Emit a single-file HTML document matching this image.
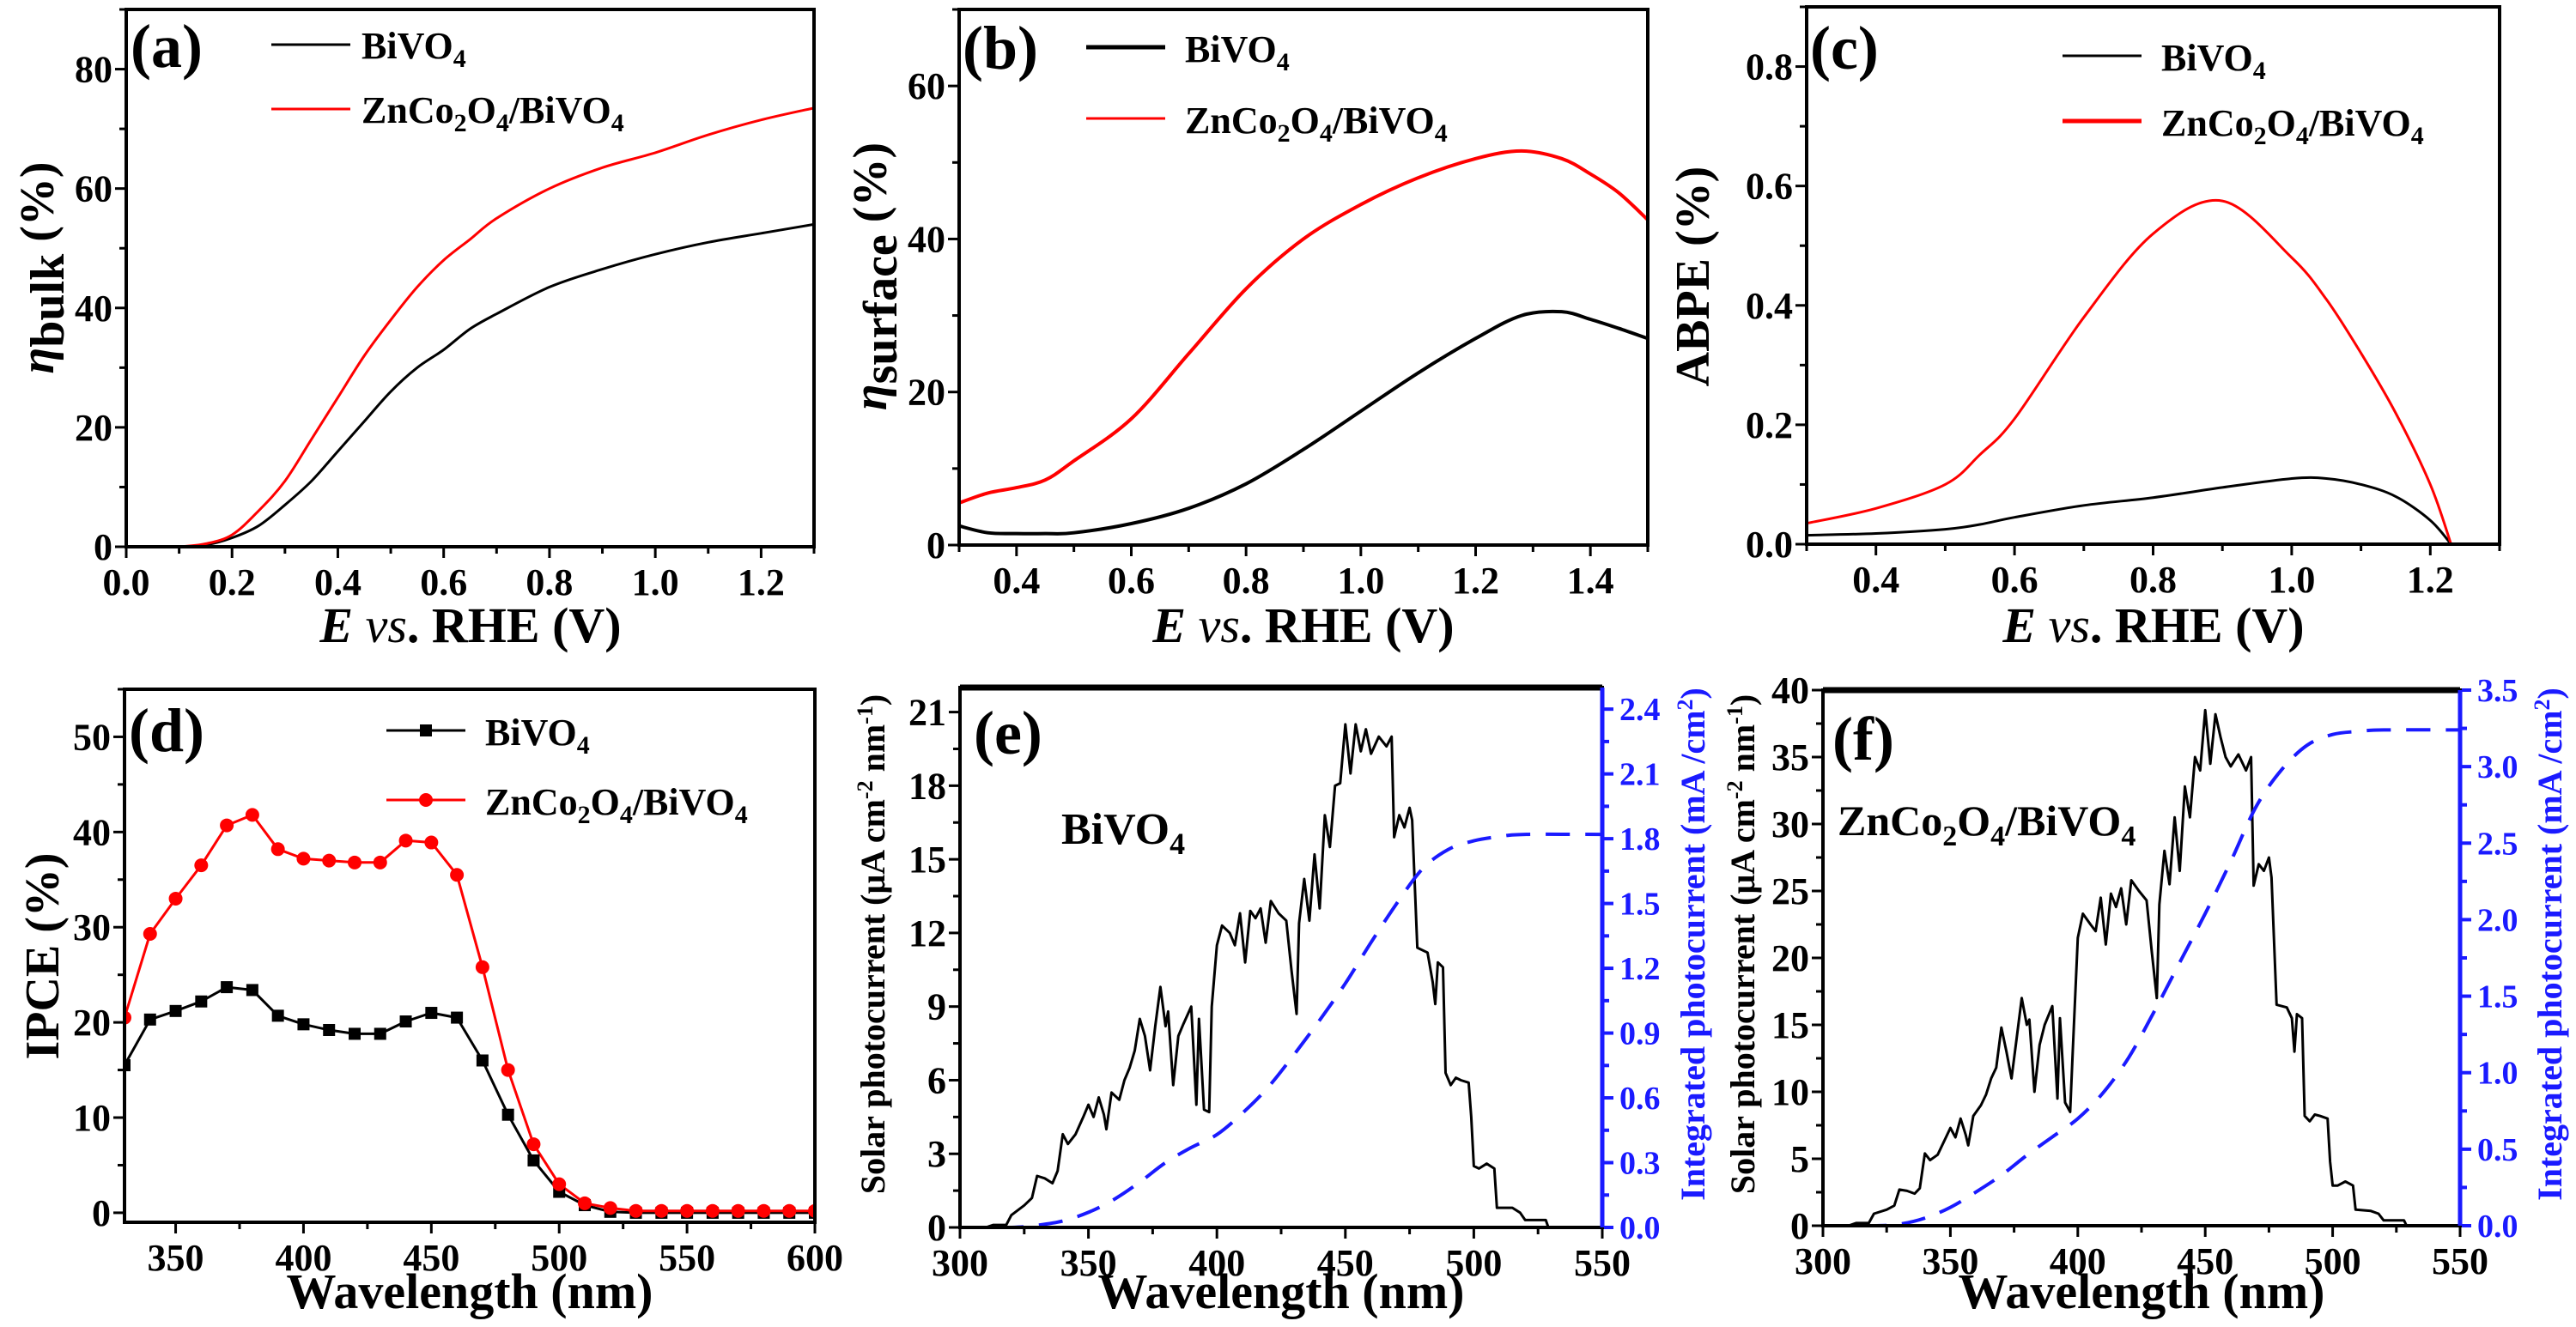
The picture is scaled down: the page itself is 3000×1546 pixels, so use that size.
<!DOCTYPE html>
<html><head><meta charset="utf-8"><style>
html,body{margin:0;padding:0;background:#fff;}
svg, svg text{font-family:"Liberation Serif","DejaVu Serif","Times New Roman",serif;font-weight:bold;}
</style></head><body>
<svg id="fig" width="3000" height="1541" viewBox="0 0 3000 1541" xmlns="http://www.w3.org/2000/svg" font-family="Liberation Serif, DejaVu Serif, serif" font-weight="bold">
<rect width="3000" height="1541" fill="#fff"/>
<text x="152" y="78" font-size="72">(a)</text>
<text x="1121" y="80" font-size="72">(b)</text>
<text x="2108" y="80" font-size="72">(c)</text>
<text x="150" y="875" font-size="72">(d)</text>
<text x="1134" y="878" font-size="72">(e)</text>
<text x="2134" y="885" font-size="72">(f)</text>
<g>
<line x1="316" y1="52" x2="408" y2="52" stroke="#000" stroke-width="3"/>
<text x="421" y="68" font-size="44">BiVO<tspan font-size="30" dy="10">4</tspan></text>
<line x1="316" y1="127" x2="408" y2="127" stroke="#f00" stroke-width="3"/>
<text x="421" y="143" font-size="44">ZnCo<tspan font-size="30" dy="10">2</tspan><tspan dy="-10">O</tspan><tspan font-size="30" dy="10">4</tspan><tspan dy="-10">/BiVO</tspan><tspan font-size="30" dy="10">4</tspan></text>
</g>
<g>
<line x1="1265" y1="55" x2="1357" y2="55" stroke="#000" stroke-width="5"/>
<text x="1380" y="72" font-size="44">BiVO<tspan font-size="30" dy="10">4</tspan></text>
<line x1="1265" y1="138" x2="1357" y2="138" stroke="#f00" stroke-width="3"/>
<text x="1380" y="155" font-size="44">ZnCo<tspan font-size="30" dy="10">2</tspan><tspan dy="-10">O</tspan><tspan font-size="30" dy="10">4</tspan><tspan dy="-10">/BiVO</tspan><tspan font-size="30" dy="10">4</tspan></text>
</g>
<g>
<line x1="2402" y1="65" x2="2494" y2="65" stroke="#000" stroke-width="3"/>
<text x="2517" y="82" font-size="44">BiVO<tspan font-size="30" dy="10">4</tspan></text>
<line x1="2402" y1="141" x2="2494" y2="141" stroke="#f00" stroke-width="5"/>
<text x="2517" y="158" font-size="44">ZnCo<tspan font-size="30" dy="10">2</tspan><tspan dy="-10">O</tspan><tspan font-size="30" dy="10">4</tspan><tspan dy="-10">/BiVO</tspan><tspan font-size="30" dy="10">4</tspan></text>
</g>
<g>
<line x1="450" y1="851" x2="542" y2="851" stroke="#000" stroke-width="3"/>
<rect x="489" y="844" width="14" height="14" fill="#000"/>
<text x="565" y="868" font-size="44">BiVO<tspan font-size="30" dy="10">4</tspan></text>
<line x1="450" y1="932" x2="542" y2="932" stroke="#f00" stroke-width="3"/>
<circle cx="496" cy="932" r="8" fill="#f00"/>
<text x="565" y="949" font-size="44">ZnCo<tspan font-size="30" dy="10">2</tspan><tspan dy="-10">O</tspan><tspan font-size="30" dy="10">4</tspan><tspan dy="-10">/BiVO</tspan><tspan font-size="30" dy="10">4</tspan></text>
</g>
<text x="1236" y="983" font-size="52">BiVO<tspan font-size="36" dy="12">4</tspan></text>
<text x="2140" y="973" font-size="50">ZnCo<tspan font-size="34" dy="12">2</tspan><tspan dy="-12">O</tspan><tspan font-size="34" dy="12">4</tspan><tspan dy="-12">/BiVO</tspan><tspan font-size="34" dy="12">4</tspan></text>
<text x="548" y="748" font-size="58" text-anchor="middle"><tspan font-style="italic">E</tspan> <tspan font-style="italic" font-weight="normal">vs</tspan>. RHE (V)</text>
<text x="1518" y="748" font-size="58" text-anchor="middle"><tspan font-style="italic">E</tspan> <tspan font-style="italic" font-weight="normal">vs</tspan>. RHE (V)</text>
<text x="2508" y="748" font-size="58" text-anchor="middle"><tspan font-style="italic">E</tspan> <tspan font-style="italic" font-weight="normal">vs</tspan>. RHE (V)</text>
<text x="547" y="1524" font-size="58" text-anchor="middle">Wavelength (nm)</text>
<text x="1492" y="1524" font-size="58" text-anchor="middle">Wavelength (nm)</text>
<text x="2494" y="1524" font-size="58" text-anchor="middle">Wavelength (nm)</text>
<text transform="translate(62,312) rotate(-90)" font-size="56" text-anchor="middle"><tspan font-style="italic">η</tspan><tspan dy="12">bulk</tspan><tspan dy="-12">  (%)</tspan></text>
<text transform="translate(1032,322) rotate(-90)" font-size="56" text-anchor="middle"><tspan font-style="italic">η</tspan><tspan dy="12">surface</tspan><tspan dy="-12">  (%)</tspan></text>
<text transform="translate(1990,322) rotate(-90)" font-size="56" text-anchor="middle">ABPE (%)</text>
<text transform="translate(68,1114) rotate(-90)" font-size="56" text-anchor="middle">IPCE (%)</text>
<text transform="translate(1030,1100) rotate(-90)" font-size="40" text-anchor="middle">Solar photocurrent (μA cm<tspan font-size="26" dy="-14">-2</tspan><tspan dy="14"> nm</tspan><tspan font-size="26" dy="-14">-1</tspan><tspan dy="14">)</tspan></text>
<text transform="translate(1985,1100) rotate(-90)" font-size="40" fill="#1a1aff" text-anchor="middle">Integrated photocurrent (mA /cm<tspan font-size="26" dy="-14">2</tspan><tspan dy="14">)</tspan></text>
<text transform="translate(2043,1100) rotate(-90)" font-size="40" text-anchor="middle">Solar photocurrent (μA cm<tspan font-size="26" dy="-14">-2</tspan><tspan dy="14"> nm</tspan><tspan font-size="26" dy="-14">-1</tspan><tspan dy="14">)</tspan></text>
<text transform="translate(2983,1100) rotate(-90)" font-size="40" fill="#1a1aff" text-anchor="middle">Integrated photocurrent (mA /cm<tspan font-size="26" dy="-14">2</tspan><tspan dy="14">)</tspan></text>
<g id="plots"></g>
</svg>
<script>
const aX = [0.06,0.1,0.15,0.2,0.25,0.3,0.35,0.4,0.45,0.5,0.55,0.6,0.65,0.7,0.8,0.9,1.0,1.1,1.2,1.3];
const aBiVO4 = [0,0,0.3,1.5,3.5,7,11,16,21,26,30,33,36.5,39,43.5,46.5,49,51,52.5,54];
const aZnCo = [0,0,0.5,2,6,11,18,25,32,38,43.5,48,51.5,55,60,63.5,66,69,71.5,73.5];
const aXTicks = ["0.0","0.2","0.4","0.6","0.8","1.0","1.2"];
const aYTicks = ["0","20","40","60","80"];
const bX = [0.3,0.35,0.4,0.45,0.5,0.6,0.7,0.8,0.9,1.0,1.1,1.2,1.28,1.35,1.4,1.45,1.5];
const bBiVO4 = [2.5,1.6,1.5,1.5,1.6,2.8,4.8,8,12.5,17.5,22.5,27,30,30.5,29.5,28.3,27];
const bZnCo = [5.5,6.8,7.5,8.5,11,16.5,25,33.5,40,44.5,48,50.5,51.5,50.5,48.5,46,42.5];
const bXTicks = ["0.4","0.6","0.8","1.0","1.2","1.4"];
const bYTicks = ["0","20","40","60"];
const cX = [0.3,0.4,0.5,0.55,0.6,0.7,0.8,0.9,1.0,1.05,1.1,1.15,1.2,1.23];
const cBiVO4 = [0.015,0.018,0.025,0.033,0.045,0.065,0.078,0.095,0.11,0.11,0.1,0.08,0.04,0];
const cZnCo = [0.035,0.06,0.1,0.15,0.21,0.38,0.52,0.575,0.48,0.41,0.32,0.22,0.1,0];
const cXTicks = ["0.4","0.6","0.8","1.0","1.2"];
const cYTicks = ["0.0","0.2","0.4","0.6","0.8"];
const dWl = [330,340,350,360,370,380,390,400,410,420,430,440,450,460,470,480,490,500,510,520,530,540,550,560,570,580,590,600];
const dBiVO4 = [15.5,20.3,21.2,22.2,23.7,23.4,20.7,19.8,19.2,18.8,18.8,20.1,21,20.5,16,10.3,5.5,2.2,0.8,0.1,0,0,0,0,0,0,0,0];
const dZnCo = [20.5,29.3,33,36.5,40.7,41.8,38.2,37.2,37,36.8,36.8,39.1,38.9,35.5,25.8,15,7.2,3,1,0.5,0.2,0.2,0.2,0.2,0.2,0.2,0.2,0.2];
const dXTicks = ["350","400","450","500","550","600"];
const dYTicks = ["0","10","20","30","40","50"];
const specWl = [310,313,318,320,325,328,330,333,336,338,340,342,345,348,350,352,354,356,357,359,362,364,366,368,370,372,374,376,378,380,381,383,385,387,390,392,393,395,397,398,400,402,405,407,409,411,413,415,417,419,421,424,427,429,431,432,434,436,438,440,442,444,446,448,450,452,454,456,458,460,463,466,468,469,471,473,475,476,478,482,484,485,486,488,489,491,493,495,498,499,500,502,505,508,509,515,518,520,528,529,530];
const eSolar = [0,0.1,0.1,0.5,0.9,1.2,2.1,2.0,1.8,2.3,3.8,3.4,3.8,4.5,5.0,4.5,5.3,4.6,4.0,5.5,5.2,6.0,6.5,7.2,8.5,7.8,6.4,8.2,9.8,8.2,8.8,5.8,7.8,8.3,9.0,5.0,8.5,4.8,4.7,9.0,11.5,12.3,12.0,11.5,12.8,10.8,12.9,12.6,13.0,11.6,13.3,12.8,12.5,10.5,8.7,12.4,14.2,12.5,15.2,13.0,16.8,15.5,18.0,18.1,20.5,18.5,20.5,19.4,20.3,19.3,20.0,19.6,20.0,15.9,16.8,16.3,17.1,16.6,11.4,11.2,10.0,9.1,10.8,10.6,6.3,5.8,6.1,6.0,5.9,4.5,2.5,2.4,2.6,2.4,0.8,0.8,0.6,0.3,0.3,0,0];
const fSolar = [0,0.2,0.2,0.9,1.2,1.5,2.7,2.6,2.4,2.8,5.4,4.9,5.3,6.5,7.3,6.6,8.0,6.8,6.0,8.2,9.0,9.8,11.0,11.8,14.8,13.0,11.0,14.0,17.0,15.0,15.4,10.0,13.5,15.0,16.4,9.5,15.5,9.2,8.5,13.0,21.5,23.3,22.5,22.0,24.5,21.0,24.8,23.8,25.2,22.5,25.8,25.0,24.3,20.5,17.0,24.0,28.0,25.5,30.5,26.5,32.8,30.5,35.0,34.0,38.5,34.5,38.2,36.5,35.0,34.3,35.2,34.0,35.0,25.4,27.0,26.5,27.5,26.0,16.5,16.3,15.5,13.0,15.8,15.5,8.2,7.8,8.3,8.2,8.0,4.8,3.0,3.0,3.3,3.0,1.2,1.1,0.9,0.4,0.4,0,0];
const intWl = [300,320,330,340,350,360,370,380,390,400,410,420,430,440,450,460,470,480,490,500,510,520,550];
const eIntegrated = [0,0,0.01,0.03,0.07,0.13,0.21,0.3,0.37,0.43,0.53,0.65,0.8,0.96,1.13,1.32,1.5,1.66,1.75,1.79,1.81,1.82,1.82];
const fIntegrated = [0,0,0.01,0.05,0.12,0.22,0.33,0.46,0.58,0.7,0.87,1.1,1.4,1.72,2.04,2.38,2.74,2.98,3.14,3.21,3.23,3.24,3.24];
const specXTicks = ["300","350","400","450","500","550"];
const eYTicks = ["0","3","6","9","12","15","18","21"];
const eY2Ticks = ["0.0","0.3","0.6","0.9","1.2","1.5","1.8","2.1","2.4"];
const fYTicks = ["0","5","10","15","20","25","30","35","40"];
const fY2Ticks = ["0.0","0.5","1.0","1.5","2.0","2.5","3.0","3.5"];

const NS = "http://www.w3.org/2000/svg";
const root = document.getElementById('plots');
function mk(tag, attrs, parent){
  const e = document.createElementNS(NS, tag);
  for (const k in attrs) e.setAttribute(k, attrs[k]);
  (parent||root).appendChild(e);
  return e;
}
function scale(d0,d1,r0,r1){ return v => r0 + (v-d0)/(d1-d0)*(r1-r0); }

function panel(id, box, xd, yd, xTicks, yTicks, opt){
  opt = opt || {};
  const g = mk('g', {});
  
  
  const sx = scale(xd[0], xd[1], box[0], box[1]);
  const sy = scale(yd[0], yd[1], box[3], box[2]);
  const clipId = 'clip-' + id;
  const cp = mk('clipPath', {id: clipId}, g);
  mk('rect', {x: box[0], y: box[2]-4, width: box[1]-box[0], height: box[3]-box[2]+4}, cp);
  const data = mk('g', {'clip-path': 'url(#' + clipId + ')'}, g);
  const ax = mk('g', {stroke: '#000', 'stroke-width': 3}, g);
  
  
  const xv = xTicks.map(Number);
  const xs = xv[1]-xv[0];
  for (let v = xv[0] - xs; v <= xd[1] + 1e-9; v += xs/2) {
    if (v < xd[0] - 1e-9) continue;
    const major = xv.some(t => Math.abs(t - v) < xs*1e-3);
    mk('line', {x1: sx(v), x2: sx(v), y1: box[3], y2: box[3] + (major ? 13 : 8)}, ax);
  }
  xTicks.forEach(t => {
    const tx = mk('text', {x: sx(Number(t)), y: box[3] + 56, 'font-size': 44, 'text-anchor': 'middle', fill: '#000'}, g);
    tx.textContent = t;
    
    
  });
  const yv = yTicks.map(Number);
  const ys = yv[1]-yv[0];
  for (let v = yv[0] - ys; v <= yd[1] + 1e-9; v += ys/2) {
    if (v < yd[0] - 1e-9) continue;
    const major = yv.some(t => Math.abs(t - v) < ys*1e-3);
    mk('line', {x1: box[0], x2: box[0] - (major ? 13 : 8), y1: sy(v), y2: sy(v)}, ax);
  }
  yTicks.forEach(t => {
    const tx = mk('text', {x: box[0] - 16, y: sy(Number(t)) + 15, 'font-size': 44, 'text-anchor': 'end', fill: '#000'}, g);
    tx.textContent = t;
    
    
  });
  let sy2 = null;
  if (opt.y2) {
    sy2 = scale(opt.y2[0], opt.y2[1], box[3], box[2]);
    const bl = mk('g', {stroke: '#1a1aff', 'stroke-width': 4}, g);
    
    
    const v2 = opt.y2Ticks.map(Number);
    const s2 = v2[1]-v2[0];
    for (let v = 0; v <= opt.y2[1] + 1e-9; v += s2/2) {
      const major = v2.some(t => Math.abs(t - v) < s2*1e-3);
      mk('line', {x1: box[1], x2: box[1] + (major ? 13 : 8), y1: sy2(v), y2: sy2(v)}, bl);
    }
    opt.y2Ticks.forEach(t => {
      const tx = mk('text', {x: box[1] + 20, y: sy2(Number(t)) + 13, 'font-size': 38, fill: '#1a1aff'}, g);
      tx.textContent = t;
      
      
    });
  }
  mk('rect', {x: box[0], y: box[2], width: box[1]-box[0], height: box[3]-box[2], fill: 'none', stroke: '#000', 'stroke-width': 4}, g);
  if (opt.thickTop) mk('line', {x1: box[0], x2: box[1], y1: box[2], y2: box[2], stroke: '#000', 'stroke-width': 7}, g);
  if (opt.y2) mk('line', {x1: box[1], x2: box[1], y1: box[2], y2: box[3], stroke: '#1a1aff', 'stroke-width': 5}, g);
  return {g, data, sx, sy, sy2};
}
function line(p, xs, ys, color, width, name, yscale, dash, smooth){
  const s = yscale || p.sy;
  const pts = xs.map((x, i) => [p.sx(x), s(ys[i])]);
  let d = 'M' + pts[0][0].toFixed(1) + ',' + pts[0][1].toFixed(1);
  for (let i = 1; i < pts.length; i++) {
    if (smooth) {
      const p0 = pts[Math.max(0, i-2)], p1 = pts[i-1], p2 = pts[i], p3 = pts[Math.min(pts.length-1, i+1)];
      const c1 = [p1[0] + (p2[0]-p0[0])/6, p1[1] + (p2[1]-p0[1])/6];
      const c2 = [p2[0] - (p3[0]-p1[0])/6, p2[1] - (p3[1]-p1[1])/6];
      d += 'C' + c1[0].toFixed(1) + ',' + c1[1].toFixed(1) + ' ' + c2[0].toFixed(1) + ',' + c2[1].toFixed(1) + ' ' + p2[0].toFixed(1) + ',' + p2[1].toFixed(1);
    } else {
      d += 'L' + pts[i][0].toFixed(1) + ',' + pts[i][1].toFixed(1);
    }
  }
  const el = mk('path', {d, fill: 'none', stroke: color, 'stroke-width': width, 'stroke-linejoin': 'round'}, p.data);
  if (dash) el.setAttribute('stroke-dasharray', dash);
  
  
  return el;
}

const pa = panel('a', [147, 948, 11, 637], [0, 1.3], [0, 90], aXTicks, aYTicks);
line(pa, aX, aBiVO4, '#000', 3, 'series-a-bivo4', null, null, true);
line(pa, aX, aZnCo, '#f00', 3, 'series-a-znco', null, null, true);
const pb = panel('b', [1117, 1919, 11, 635], [0.3, 1.5], [0, 70], bXTicks, bYTicks);
line(pb, bX, bBiVO4, '#000', 4, 'series-b-bivo4', null, null, true);
line(pb, bX, bZnCo, '#f00', 4, 'series-b-znco', null, null, true);
const pc = panel('c', [2104, 2911, 8, 634], [0.3, 1.3], [0, 0.9], cXTicks, cYTicks);
line(pc, cX, cBiVO4, '#000', 3, 'series-c-bivo4', null, null, true);
line(pc, cX, cZnCo, '#f00', 3, 'series-c-znco', null, null, true);
const pd = panel('d', [145, 949, 803, 1424], [330, 600], [-1, 55], dXTicks, dYTicks);
line(pd, dWl, dBiVO4, '#000', 3, 'series-d-bivo4');
line(pd, dWl, dZnCo, '#f00', 3, 'series-d-znco');
dWl.forEach((w, i) => {
  const r = mk('rect', {x: pd.sx(w) - 7, y: pd.sy(dBiVO4[i]) - 7, width: 14, height: 14, fill: '#000'}, pd.data);
  
  
});
dWl.forEach((w, i) => {
  const c = mk('circle', {cx: pd.sx(w), cy: pd.sy(dZnCo[i]), r: 8, fill: '#f00'}, pd.data);
  
  
});
const pe = panel('e', [1118, 1866, 801, 1430], [300, 550], [0, 22], specXTicks, eYTicks, {y2: [0, 2.5], y2Ticks: eY2Ticks, thickTop: true});
line(pe, specWl, eSolar, '#000', 3, 'series-e-solar');
line(pe, intWl, eIntegrated, '#1a1aff', 4, 'series-e-integrated', pe.sy2, '28 18', true);
const pf = panel('f', [2123, 2865, 804, 1428], [300, 550], [0, 40], specXTicks, fYTicks, {y2: [0, 3.5], y2Ticks: fY2Ticks, thickTop: true});
line(pf, specWl, fSolar, '#000', 3, 'series-f-solar');
line(pf, intWl, fIntegrated, '#1a1aff', 4, 'series-f-integrated', pf.sy2, '28 18', true);
</script>
</body></html>
